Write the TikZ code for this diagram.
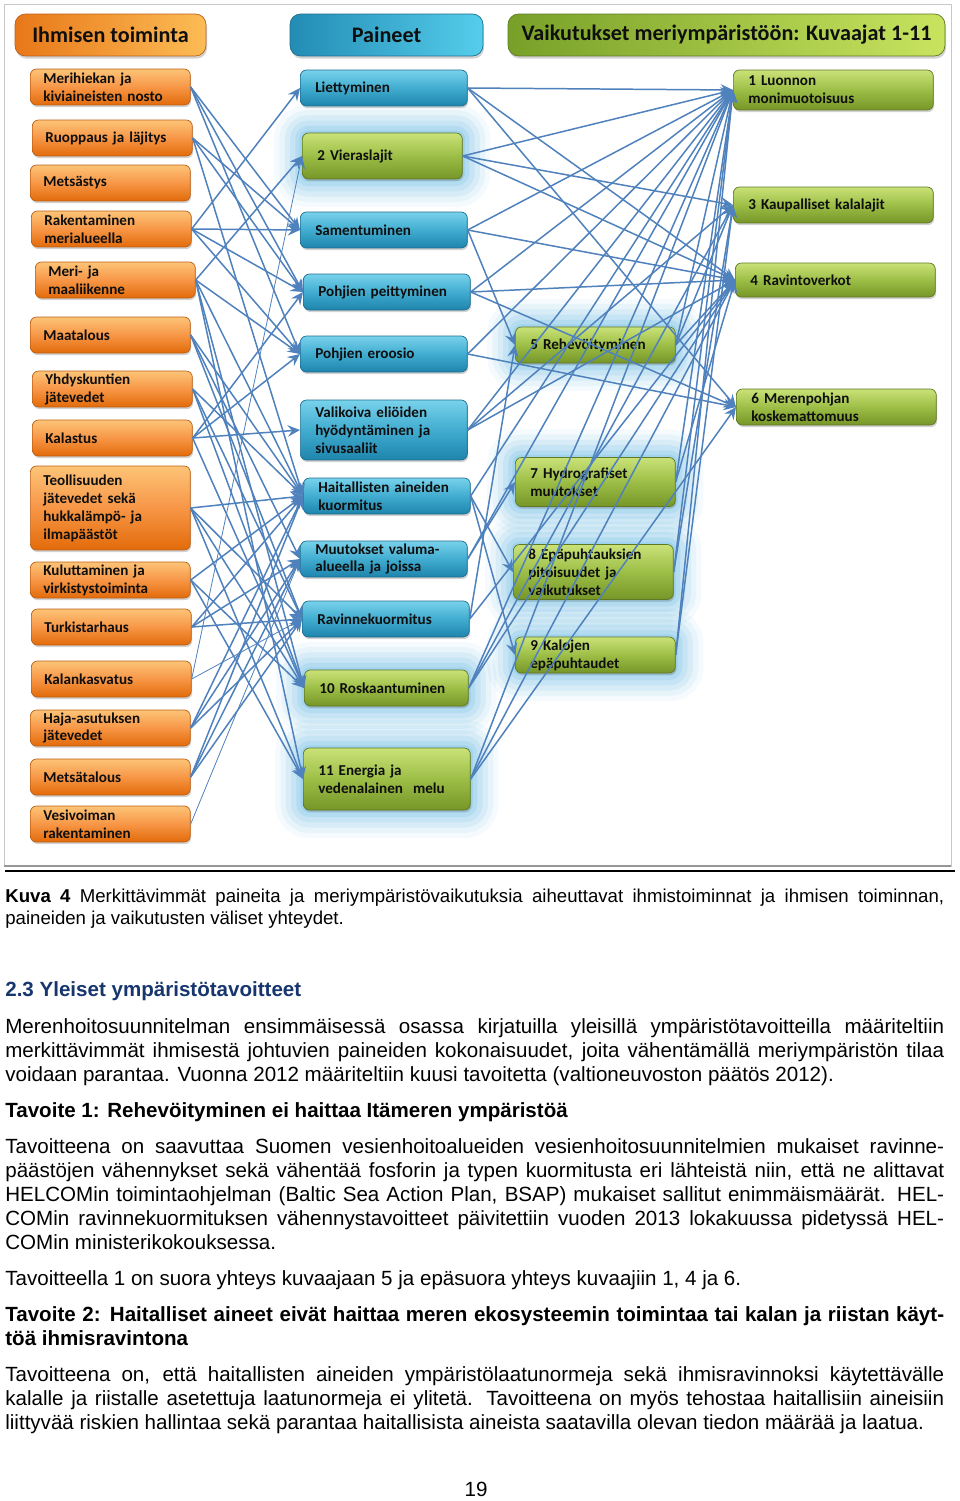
\documentclass[tikz,border=0pt]{standalone}
\usepackage{fontspec}
\setmainfont{Liberation Sans}
\newfontfamily\carlito{Carlito}
\usetikzlibrary{shadows,arrows.meta}
\usepackage{xcolor}
\definecolor{ortop}{RGB}{253,196,120}
\definecolor{ormid}{RGB}{247,150,70}
\definecolor{orbot}{RGB}{226,107,10}
\definecolor{orline}{RGB}{190,95,20}
\definecolor{bltop}{RGB}{120,210,235}
\definecolor{blmid}{RGB}{65,172,208}
\definecolor{blbot}{RGB}{30,132,172}
\definecolor{blline}{RGB}{30,110,145}
\definecolor{grtop}{RGB}{202,226,120}
\definecolor{grmid}{RGB}{156,190,70}
\definecolor{grbot}{RGB}{118,150,40}
\definecolor{grline}{RGB}{95,120,35}
\definecolor{orhl}{RGB}{232,120,25}
\definecolor{orhr}{RGB}{252,188,85}
\definecolor{blhl}{RGB}{35,140,180}
\definecolor{blhr}{RGB}{85,205,235}
\definecolor{grhl}{RGB}{120,160,40}
\definecolor{grhr}{RGB}{200,228,95}
\definecolor{glowblue}{RGB}{80,175,225}
\definecolor{linkblue}{RGB}{79,129,189}
\definecolor{boxtext}{RGB}{15,15,15}
\definecolor{headnavy}{RGB}{23,54,110}
\definecolor{framegray}{RGB}{200,200,200}
\definecolor{framedark}{RGB}{150,150,150}

\newcommand{\jl}[1]{\makebox[18.78cm][s]{#1}}

\tikzset{
  basebox/.style={anchor=west, rounded corners=3.5pt, align=left, inner ysep=1pt,
    minimum height=0.72cm, text=boxtext,
    font=\carlito\bfseries\fontsize{8.6}{10.2}\selectfont,
    drop shadow={shadow xshift=0.5pt, shadow yshift=-1.2pt, opacity=0.35}},
  act/.style={basebox, draw=orline, top color=ortop, bottom color=orbot, middle color=ormid,
    text width=2.68cm, inner xsep=0.26cm},
  press/.style={basebox, draw=blline, top color=bltop, bottom color=blbot, middle color=blmid,
    text width=2.74cm, inner xsep=0.3cm},
  eff/.style={basebox, draw=grline, top color=grtop, bottom color=grbot, middle color=grmid,
    text width=2.6cm, inner xsep=0.3cm},
  effwide/.style={eff, text width=3.4cm},
  glow/.style={
    preaction={draw=glowblue, line width=32pt, opacity=0.06},
    preaction={draw=glowblue, line width=26pt, opacity=0.08},
    preaction={draw=glowblue, line width=20pt, opacity=0.10},
    preaction={draw=glowblue, line width=14pt, opacity=0.12},
    preaction={draw=glowblue, line width=8pt, opacity=0.15},
    preaction={draw=glowblue, line width=3pt, opacity=0.2}},
  head/.style={rounded corners=6pt, minimum height=0.84cm, text=boxtext,
    font=\carlito\bfseries\fontsize{12.6}{14}\selectfont,
    drop shadow={shadow xshift=0.6pt, shadow yshift=-1.5pt, opacity=0.35}},
  link/.style={draw=linkblue, line width=0.85pt, -{Stealth[length=7pt,width=6.5pt,inset=2.5pt]}},
  thinlink/.style={link, line width=0.45pt},
  txt/.style={anchor=base west, inner sep=0pt, font=\fontsize{11.7}{13.6}\selectfont},
  captxt/.style={txt, font=\fontsize{10.6}{12.5}\selectfont},
}

\begin{document}
\begin{tikzpicture}[x=0.02cm, y=-0.02cm]
  % --- page ---
  \fill[white] (0,0) rectangle (960,1501);
  \useasboundingbox (0,0) rectangle (960,1501);

  % --- figure frame ---
  \draw[framegray, line width=0.5pt] (4,4) rectangle (951,866);
  \draw[framedark, line width=1.4pt] (4,866) -- (951,866);
  \draw[black, line width=1.2pt] (5,871) -- (955,871);

  % --- column headers ---
  \node[head, draw=orline, left color=orhl, right color=orhr, minimum width=3.82cm]
    (hAct) at (110.5,35) {Ihmisen toiminta};
  \node[head, draw=blline, left color=blhl, right color=blhr, minimum width=3.86cm]
    (hPress) at (386.5,35) {Paineet};
  \node[head, draw=grline, left color=grhl, right color=grhr, minimum width=8.74cm]
    (hEff) at (726.5,35) {Vaikutukset meriympäristöön: Kuvaajat 1-11};

  % --- human activities ---
  \node[act] (l1) at (30,87) {Merihiekan ja\\kiviaineisten nosto};
  \node[act] (l2) at (32,138) {Ruoppaus ja läjitys};
  \node[act] (l3) at (30,183) {Metsästys};
  \node[act] (l4) at (31,229) {Rakentaminen\\merialueella};
  \node[act] (l5) at (35,280) {Meri- ja\\maaliikenne};
  \node[act] (l6) at (30,335) {Maatalous};
  \node[act] (l7) at (32,389) {Yhdyskuntien\\jätevedet};
  \node[act] (l8) at (32,438) {Kalastus};
  \node[act, minimum height=1.68cm] (l9) at (30,508)
    {Teollisuuden\\jätevedet sekä\\hukkalämpö- ja\\ilmapäästöt};
  \node[act] (l10) at (30,580) {Kuluttaminen ja\\virkistystoiminta};
  \node[act] (l11) at (31,627) {Turkistarhaus};
  \node[act] (l12) at (31,679) {Kalankasvatus};
  \node[act] (l13) at (30,728) {Haja-asutuksen\\jätevedet};
  \node[act] (l14) at (30,777) {Metsätalous};
  \node[act] (l15) at (30,824) {Vesivoiman\\rakentaminen};

  % --- pressures ---
  \node[press] (p1) at (300,88) {Liettyminen};
  \node[glow, eff, minimum height=0.92cm] (p2) at (302,156) {2 Vieraslajit};
  \node[press] (p3) at (300,230) {Samentuminen};
  \node[press] (p4) at (303,292) {Pohjien peittyminen};
  \node[press] (p5) at (300,354) {Pohjien eroosio};
  \node[press, minimum height=1.2cm] (p6) at (300,430)
    {Valikoiva eliöiden\\hyödyntäminen ja\\sivusaaliit};
  \node[press] (p7) at (303,496) {Haitallisten aineiden\\kuormitus};
  \node[press] (p8) at (300,559) {Muutokset valuma-\\alueella ja joissa};
  \node[press] (p9) at (302,619) {Ravinnekuormitus};
  \node[glow, eff, text width=2.68cm] (p10) at (304,688) {10 Roskaantuminen};
  \node[glow, eff, text width=2.74cm, minimum height=1.24cm] (p11) at (303,779)
    {11 Energia ja\\vedenalainen\ \ melu};

  % --- impacts, middle ---
  \node[glow, eff] (g5) at (515,345) {5 Rehevöityminen};
  \node[glow, eff, minimum height=0.98cm] (g7) at (515,482) {7 Hydrografiset\\muutokset};
  \node[glow, eff, minimum height=1.1cm] (g8) at (513,572)
    {8 Epäpuhtauksien\\pitoisuudet ja\\vaikutukset};
  \node[glow, eff] (g9) at (515,655) {9 Kalojen\\epäpuhtaudet};

  % --- impacts, right ---
  \node[effwide, minimum height=0.8cm] (r1) at (733,90) {1 Luonnon\\monimuotoisuus};
  \node[effwide] (r3) at (733,205) {3 Kaupalliset kalalajit};
  \node[effwide, minimum height=0.68cm] (r4) at (735,280) {4 Ravintoverkot};
  \node[effwide] (r6) at (736,407) {6 Merenpohjan\\koskemattomuus};

  % --- activities -> pressures ---
  \foreach \a/\b in {l1/p3, l1/p4, l1/p5, l2/p3, l2/p4, l2/p7,
    l4/p1, l4/p3, l4/p4, l4/p5, l5/p2, l5/p5, l5/p7, l5/p10, l5/p11,
    l6/p7, l6/p8, l6/p9, l7/p7, l7/p9, l7/p10, l8/p4, l8/p5, l8/p6, l8/p10,
    l9/p7, l9/p9, l9/p10, l9/p11, l10/p7, l10/p10, l10/p11,
    l11/p7, l11/p8, l11/p9, l13/p7, l13/p8, l13/p9, l14/p7, l14/p8, l14/p9}{
    \draw[link] (\a.east) -- (\b.west);
  }
  \foreach \a/\b in {l12/p2, l12/p9, l15/p8}{
    \draw[thinlink] (\a.east) -- (\b.west);
  }

  % --- pressures -> impacts ---
  \foreach \a/\b in {p1/r1, p1/r4, p1/r6, p2/r1, p2/r3, p2/r4,
    p3/r1, p3/r4, p3/g5, p4/r1, p4/r4, p4/r6, p5/r1, p5/r6,
    p6/r1, p6/r3, p6/r4, p7/r1, p7/g8, p7/g9, p8/r1, p8/g7,
    p9/g5, p9/r4, p10/r1, p10/r3, p10/r4, p11/r1, p11/r4, p11/r6,
    g5/r1, g5/r3, g5/r4, g7/r1, g7/r4, g8/r1, g8/r3, g9/r1, g9/r3}{
    \draw[link] (\a.east) -- (\b.west);
  }

  % --- caption ---
  \node[captxt] (cap1) at (5,902) {\jl{\textbf{Kuva 4} Merkittävimmät paineita ja meriympäristövaikutuksia aiheuttavat ihmistoiminnat ja ihmisen toiminnan,}};
  \node[captxt] (cap2) at (5,924) {paineiden ja vaikutusten väliset yhteydet.};

  % --- section text ---
  \node[txt, text=headnavy, font=\bfseries\fontsize{11.7}{13.6}\selectfont] (sec)
    at (5,996) {2.3 Yleiset ympäristötavoitteet};
  \node[txt] (a1) at (5,1033) {\jl{Merenhoitosuunnitelman ensimmäisessä osassa kirjatuilla yleisillä ympäristötavoitteilla määriteltiin}};
  \node[txt] (a2) at (5,1057) {\jl{merkittävimmät ihmisestä johtuvien paineiden kokonaisuudet, joita vähentämällä meriympäristön tilaa}};
  \node[txt] (a3) at (5,1081) {voidaan parantaa. Vuonna 2012 määriteltiin kuusi tavoitetta (valtioneuvoston päätös 2012).};

  \node[txt] (t1) at (5,1117) {\textbf{Tavoite 1: Rehevöityminen ei haittaa Itämeren ympäristöä}};
  \node[txt] (b1) at (5,1153) {\jl{Tavoitteena on saavuttaa Suomen vesienhoitoalueiden vesienhoitosuunnitelmien mukaiset ravinne-}};
  \node[txt] (b2) at (5,1177) {\jl{päästöjen vähennykset sekä vähentää fosforin ja typen kuormitusta eri lähteistä niin, että ne alittavat}};
  \node[txt] (b3) at (5,1201) {\jl{HELCOMin toimintaohjelman (Baltic Sea Action Plan, BSAP) mukaiset sallitut enimmäismäärät. HEL-}};
  \node[txt] (b4) at (5,1225) {\jl{COMin ravinnekuormituksen vähennystavoitteet päivitettiin vuoden 2013 lokakuussa pidetyssä HEL-}};
  \node[txt] (b5) at (5,1249) {COMin ministerikokouksessa.};
  \node[txt] (b6) at (5,1285) {Tavoitteella 1 on suora yhteys kuvaajaan 5 ja epäsuora yhteys kuvaajiin 1, 4 ja 6.};

  \node[txt] (t2a) at (5,1321) {\jl{\textbf{Tavoite 2: Haitalliset aineet eivät haittaa meren ekosysteemin toimintaa tai kalan ja riistan käyt-}}};
  \node[txt] (t2b) at (5,1345) {\textbf{töä ihmisravintona}};
  \node[txt] (c1) at (5,1381) {\jl{Tavoitteena on, että haitallisten aineiden ympäristölaatunormeja sekä ihmisravinnoksi käytettävälle}};
  \node[txt] (c2) at (5,1405) {\jl{kalalle ja riistalle asetettuja laatunormeja ei ylitetä. Tavoitteena on myös tehostaa haitallisiin aineisiin}};
  \node[txt] (c3) at (5,1429) {liittyvää riskien hallintaa sekä parantaa haitallisista aineista saatavilla olevan tiedon määrää ja laatua.};

  % --- page number ---
  \node[txt, anchor=base] (pageno) at (476,1496) {19};
\end{tikzpicture}
\end{document}
